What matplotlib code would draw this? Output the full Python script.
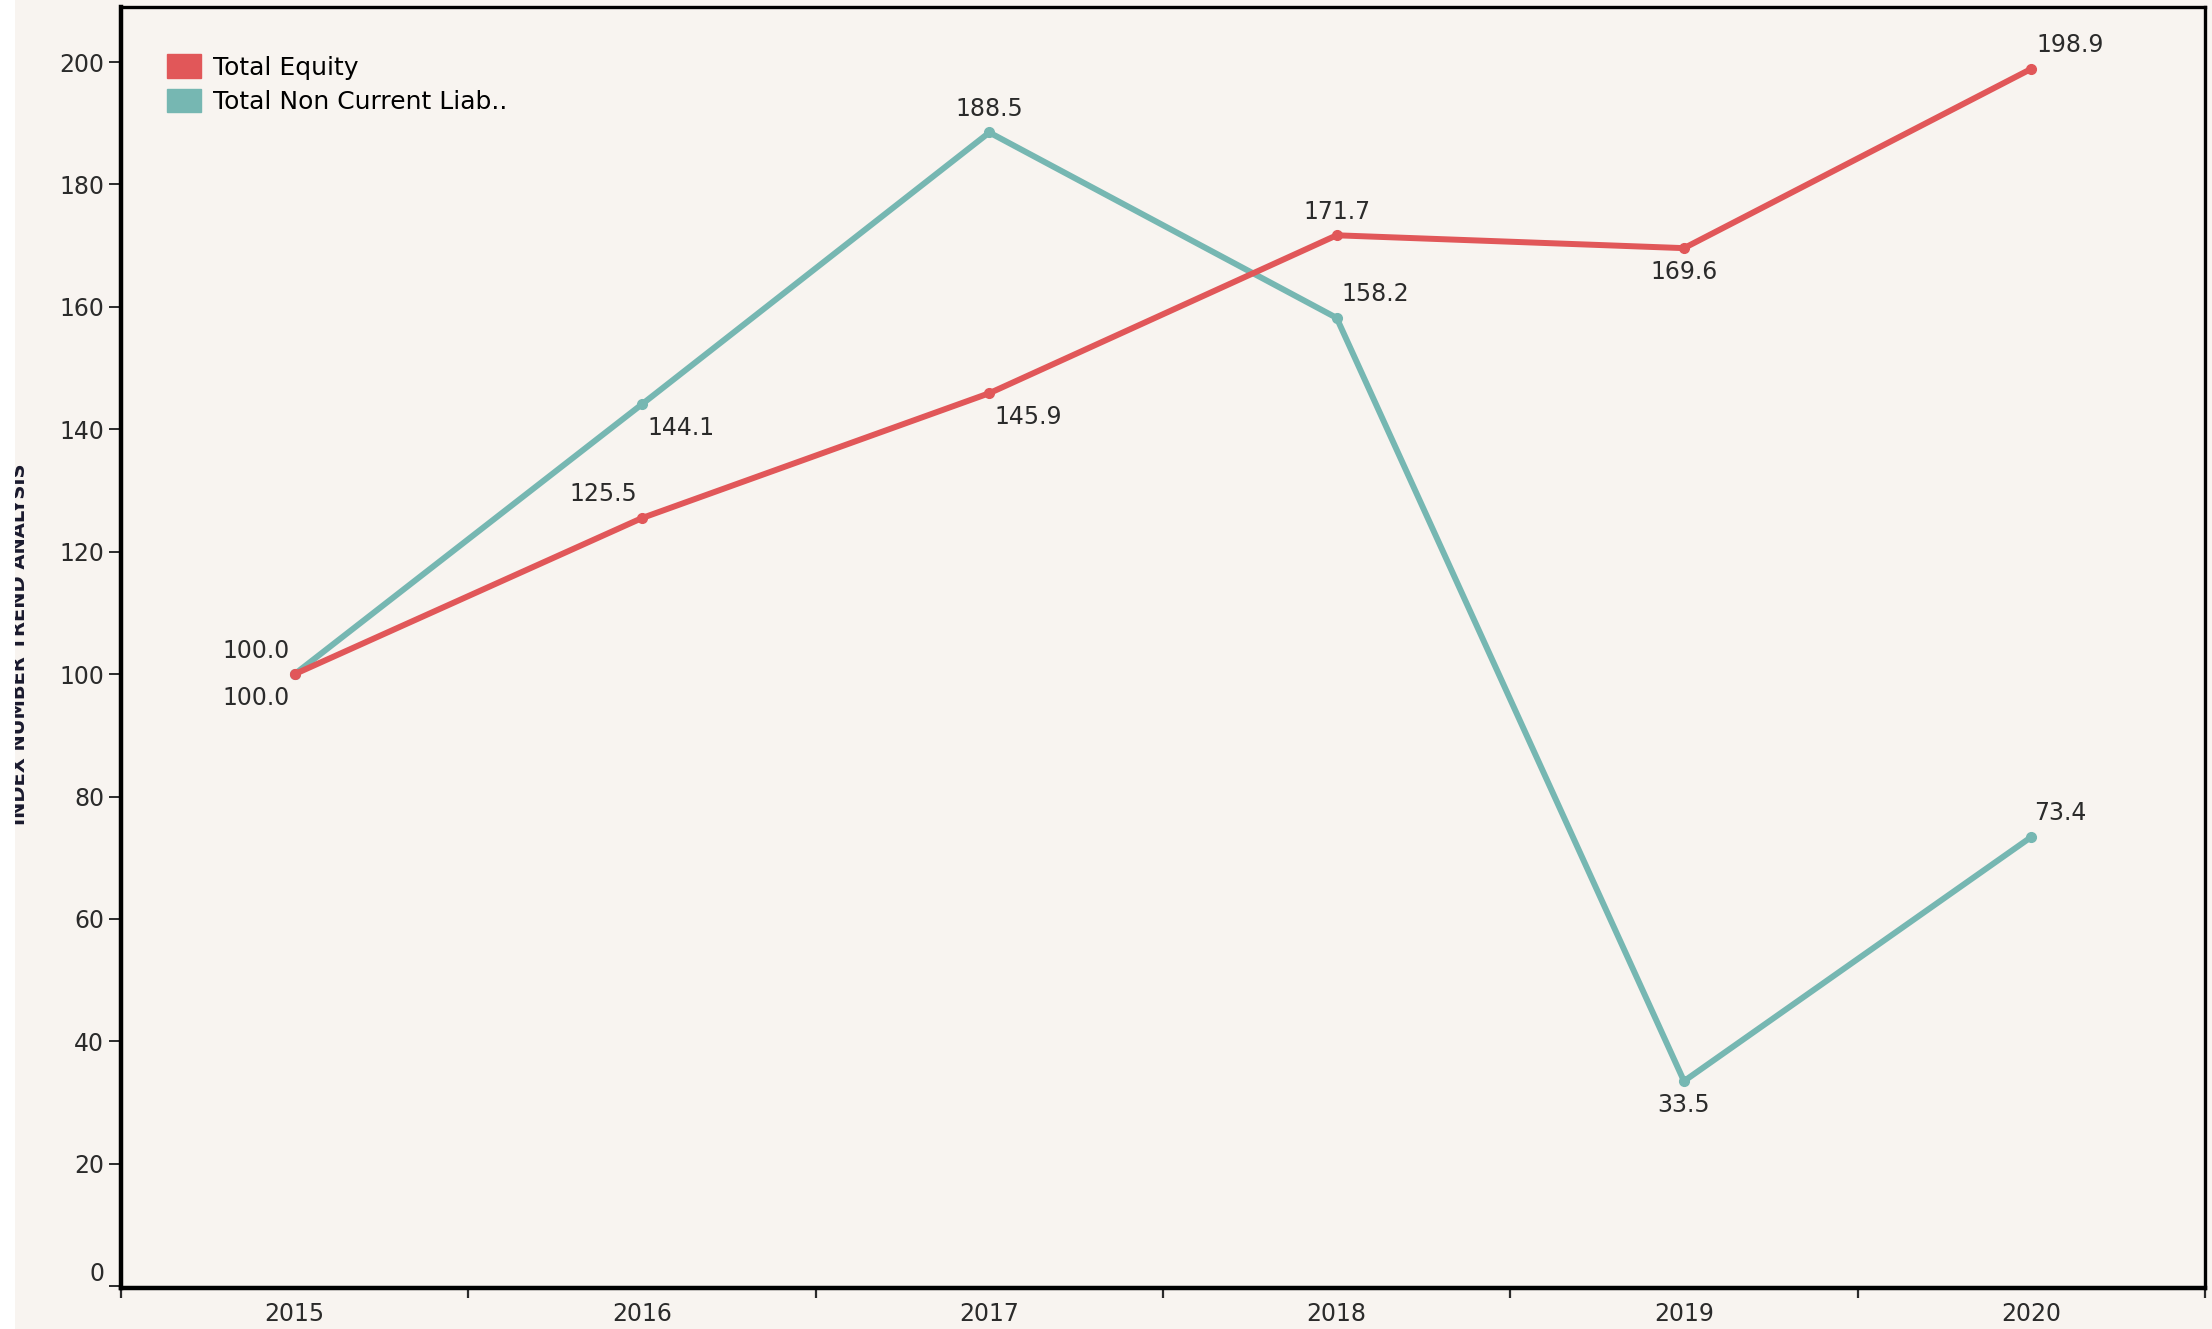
import matplotlib.pyplot as plt
from matplotlib.patches import Patch, Rectangle

years = [2015, 2016, 2017, 2018, 2019, 2020]
total_equity = [100.0, 125.5, 145.9, 171.7, 169.6, 198.9]
total_ncl = [100.0, 144.1, 188.5, 158.2, 33.5, 73.4]
y_ticks = [0, 20, 40, 60, 80, 100, 120, 140, 160, 180, 200]

# label placement (dx, dy in points) for each point
equity_offsets = [(-28, -17), (-28, 17), (28, -17), (0, 17), (0, -17), (28, 17)]
ncl_offsets = [(-28, 17), (28, -17), (0, 17), (28, 17), (0, -17), (21, 17)]

red = "#E15759"
teal = "#76B7B2"
bg = "#F8F4F0"
txt = "#2b2b2b"
plt.rcParams["font.family"] = ["DejaVu Sans"]

fig = plt.figure(figsize=(22.12, 13.29), dpi=100, facecolor=bg)
ax = fig.add_axes([121 / 2212, 41 / 1329, (2205 - 121) / 2212, (1322 - 41) / 1329])
ax.set_facecolor(bg)

ax.plot(years, total_ncl, color=teal, lw=4.3, marker="o", ms=7, zorder=3)
ax.plot(years, total_equity, color=red, lw=4.3, marker="o", ms=7, zorder=4)

for x, y, off in zip(years, total_equity, equity_offsets):
    ax.annotate(f"{y:.1f}", (x, y), xytext=off, textcoords="offset points",
                ha="center", va="center", fontsize=17, color=txt)
for x, y, off in zip(years, total_ncl, ncl_offsets):
    ax.annotate(f"{y:.1f}", (x, y), xytext=off, textcoords="offset points",
                ha="center", va="center", fontsize=17, color=txt)

ax.set_xlim(2014.5, 2020.5)
ax.set_ylim(-0.3, 209)
ax.set_yticks(y_ticks)
ax.tick_params(axis="y", labelsize=17, length=9, width=1.4, pad=3, colors=txt)
# keep the 0 label inside, just above the bottom axis
ax.get_yticklabels()[0].set_va("bottom")

# boundaries as major ticks, years as minor labels
ax.set_xticks([y - 0.5 for y in years] + [years[-1] + 0.5])
ax.set_xticklabels([])
ax.set_xticks(years, minor=True)
ax.set_xticklabels([str(y) for y in years], minor=True)
ax.tick_params(axis="x", which="major", length=7, width=1.6, colors=txt)
ax.tick_params(axis="x", which="minor", length=0, labelsize=17, pad=10, colors=txt)

ax.spines["left"].set_linewidth(3.2)
ax.spines["bottom"].set_linewidth(3.2)
ax.spines["top"].set_linewidth(2.4)
ax.spines["right"].set_linewidth(2.4)

fig.text(20 / 2212, 0.515, "INDEX NUMBER TREND ANALYSIS", rotation=90, ha="center",
         va="center", fontsize=14, fontweight="bold", color="#1a1a2e")
# white strip at the left edge cuts the axis title, as in the original
fig.patches.append(Rectangle((0, 0), 15 / 2212, 1, transform=fig.transFigure,
                             facecolor="white", edgecolor="none", zorder=10))

handles = [Patch(color=red, label="Total Equity"),
           Patch(color=teal, label="Total Non Current Liab..")]
ax.legend(handles=handles, loc="upper left", frameon=False, fontsize=18,
          handlelength=1.35, handleheight=1.05, handletextpad=0.5,
          labelspacing=0.38, borderpad=0, borderaxespad=0,
          bbox_to_anchor=(0.022, 0.963))

fig.savefig("out.png", dpi=100, facecolor=bg)
